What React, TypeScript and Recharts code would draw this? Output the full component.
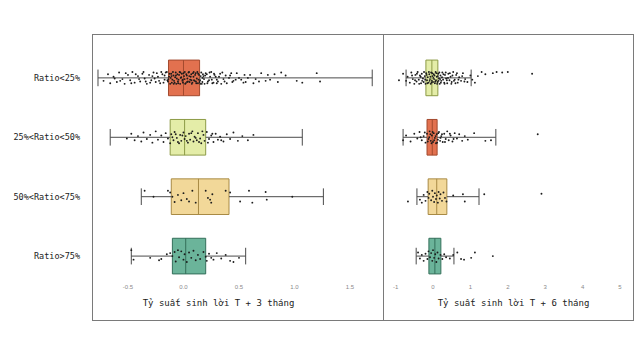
import { ComposedChart, Scatter, XAxis, YAxis, ReferenceArea, ReferenceLine } from 'recharts'

// row labels (top to bottom)
const groups = ['Ratio<25%', '25%<Ratio<50%', '50%<Ratio<75%', 'Ratio>75%']

// box stats, T + 3 months
const t3Low = [-0.77, -0.66, -0.38, -0.47]
const t3Q1 = [-0.135, -0.12, -0.11, -0.1]
const t3Median = [0.0, 0.01, 0.135, 0.02]
const t3Q3 = [0.145, 0.2, 0.41, 0.2]
const t3High = [1.7, 1.07, 1.26, 0.56]

// box stats, T + 6 months
const t6Low = [-0.72, -0.8, -0.43, -0.45]
const t6Q1 = [-0.19, -0.16, -0.13, -0.11]
const t6Median = [-0.03, -0.02, 0.1, 0.05]
const t6Q3 = [0.13, 0.11, 0.37, 0.21]
const t6High = [1.02, 1.68, 1.23, 0.56]

const t3Ticks = [-0.5, 0, 0.5, 1, 1.5]
const t6Ticks = [-1, 0, 1, 2, 3, 4, 5]

// jittered points: [return, vertical jitter within row]
const t3Row1 = [
  [-0.72, 0.05], [-0.68, -0.06], [-0.66, 0.09], [-0.63, -0.02], [-0.6, 0.07], [-0.58, -0.09], [-0.55, 0.02], [-0.53, 0.1],
  [-0.5, -0.05], [-0.48, 0.04], [-0.46, -0.1], [-0.44, 0.08], [-0.41, -0.03], [-0.39, 0.06], [-0.37, -0.07], [-0.35, 0.01],
  [-0.33, 0.1], [-0.31, -0.05], [-0.29, 0.04], [-0.27, -0.09], [-0.25, 0.07], [-0.23, -0.02], [-0.21, 0.09], [-0.19, -0.06],
  [-0.17, 0.03], [-0.16, -0.09], [-0.15, -0.1], [-0.145, 0.04], [-0.14, 0.06], [-0.13, -0.02], [-0.125, -0.07], [-0.12, 0.1],
  [-0.115, 0.0], [-0.11, -0.07], [-0.105, 0.08], [-0.1, 0.03], [-0.095, -0.1], [-0.09, -0.04], [-0.085, 0.05], [-0.08, 0.08],
  [-0.075, -0.01], [-0.07, -0.09], [-0.065, 0.1], [-0.06, 0.01], [-0.055, -0.06], [-0.05, 0.06], [-0.045, 0.03], [-0.04, -0.05],
  [-0.035, -0.1], [-0.03, 0.1], [-0.025, 0.0], [-0.02, -0.01], [-0.015, -0.07], [-0.01, 0.05], [-0.005, 0.08], [0, -0.08],
  [0.005, -0.03], [0.01, 0.02], [0.015, 0.1], [0.02, 0.09], [0.025, -0.06], [0.03, -0.04], [0.035, 0.01], [0.04, 0.06],
  [0.045, -0.09], [0.05, -0.1], [0.055, 0.07], [0.06, 0.03], [0.065, -0.02], [0.07, -0.06], [0.075, 0.1], [0.08, 0.08],
  [0.085, -0.08], [0.09, -0.02], [0.095, 0.04], [0.1, 0.05], [0.105, -0.05], [0.11, -0.08], [0.115, 0.09], [0.12, 0.01],
  [0.125, -0.1], [0.13, 0.09], [0.135, 0.03], [0.14, -0.05], [0.145, 0.07], [0.15, 0.04], [0.155, -0.03], [0.16, -0.09],
  [0.165, 0.1], [0.17, 0.07], [0.175, -0.06], [0.18, -0.03], [0.185, 0.02], [0.19, 0.1], [0.2, -0.08], [0.21, -0.06],
  [0.22, 0.06], [0.23, 0.04], [0.24, -0.02], [0.25, -0.1], [0.26, 0.09], [0.27, 0.08], [0.28, -0.05], [0.29, -0.02],
  [0.3, 0.03], [0.31, 0.06], [0.33, -0.07], [0.34, 0.1], [0.36, 0.02], [0.38, -0.04], [0.39, 0.09], [0.42, -0.04],
  [0.44, 0.07], [0.45, 0.05], [0.48, -0.08], [0.5, 0.0], [0.52, 0.03], [0.55, -0.05], [0.56, 0.07], [0.6, -0.05],
  [0.63, 0.09], [0.65, 0.02], [0.7, -0.08], [0.74, 0.05], [0.78, 0.03], [0.82, -0.06], [0.85, 0.07], [0.88, -0.09],
  [0.92, -0.04], [1.02, 0.05], [1.07, 0.08], [1.2, -0.08], [1.23, 0.06],
  [-0.62, 0.01], [-0.57, 0.05], [-0.52, -0.08], [-0.47, 0.09], [-0.43, -0.06], [-0.4, 0.02], [-0.36, -0.1], [-0.34, 0.06],
  [-0.3, 0.08], [-0.28, -0.03], [-0.26, 0.01], [-0.24, -0.08], [-0.22, 0.05], [-0.2, -0.1], [-0.18, 0.08], [-0.17, -0.04],
  [-0.135, 0.02], [-0.108, -0.03], [-0.088, 0.1], [-0.068, -0.04], [-0.048, 0.09], [-0.028, -0.09], [-0.008, 0.03], [0.012, -0.1],
  [0.032, 0.07], [0.052, -0.03], [0.072, 0.04], [0.092, -0.1], [0.112, 0.06], [0.132, -0.07], [0.152, 0.1], [0.172, 0.0],
  [0.195, -0.04], [0.215, 0.09], [0.235, -0.09], [0.255, 0.03], [0.275, -0.07], [0.3, 0.09], [0.32, -0.02], [0.35, -0.09],
  [0.37, 0.06], [0.41, 0.0], [0.43, -0.08], [0.47, 0.03], [0.54, 0.08], [0.58, 0.0], [0.68, 0.06], [0.76, -0.05],
]
const t3Row2 = [
  [-0.51, 0.02], [-0.47, -0.06], [-0.44, 0.05], [-0.41, -0.02], [-0.38, 0.07], [-0.36, -0.08], [-0.33, 0.03], [-0.3, -0.04],
  [-0.28, 0.09], [-0.25, -0.1], [-0.23, 0.04], [-0.2, -0.03], [-0.18, 0.08], [-0.16, -0.07], [-0.14, 0.02], [-0.12, 0.1],
  [-0.11, -0.05], [-0.09, 0.05], [-0.08, -0.09], [-0.06, 0.01], [-0.05, 0.08], [-0.03, -0.04], [-0.02, 0.06], [0, -0.08],
  [0.01, 0.03], [0.02, -0.02], [0.04, 0.09], [0.05, -0.06], [0.06, 0.04], [0.08, -0.1], [0.09, 0.07], [0.1, -0.01],
  [0.12, 0.05], [0.13, -0.07], [0.15, 0.02], [0.16, 0.1], [0.18, -0.04], [0.19, 0.06], [0.21, -0.09], [0.23, 0.03],
  [0.25, -0.03], [0.27, 0.08], [0.29, -0.06], [0.31, 0.04], [0.33, -0.01], [0.36, 0.07], [0.39, -0.05], [0.42, 0.03],
  [0.45, -0.08], [0.49, 0.06], [0.53, -0.02], [0.58, 0.05], [0.63, -0.04],
  [-0.1, 0.0], [-0.07, -0.05], [-0.04, 0.1], [-0.01, -0.03], [0.03, 0.06], [0.07, -0.07], [0.11, 0.01], [0.14, 0.08],
  [0.17, -0.1], [0.22, 0.09], [0.26, -0.06], [0.34, 0.05],
]
const t3Row3 = [
  [-0.35, -0.1], [-0.27, 0], [-0.14, -0.1], [-0.12, -0.07], [-0.1, 0.0], [-0.08, 0.09], [-0.05, -0.03], [-0.02, 0.06],
  [0.0, -0.06], [0.03, 0.04], [0.05, 0.08], [0.08, -0.1], [0.11, 0.1], [0.2, -0.1], [0.22, 0.02], [0.24, 0.05],
  [0.26, -0.04], [0.25, 0.1], [0.38, -0.1], [0.42, -0.07], [0.51, 0.08], [0.59, -0.1], [0.62, 0.1], [0.74, -0.08],
  [0.75, 0.05], [0.98, 0.0],
]
const t3Row4 = [
  [-0.47, -0.1], [-0.45, 0.06], [-0.3, 0.03], [-0.22, 0.07], [-0.2, 0.05], [-0.15, -0.03], [-0.12, -0.05], [-0.1, 0.0],
  [-0.08, -0.07], [-0.07, 0.09], [-0.05, -0.1], [-0.04, 0.02], [-0.02, -0.08], [0.0, 0.06], [0.01, -0.03], [0.03, 0.1],
  [0.05, -0.06], [0.07, 0.03], [0.09, -0.09], [0.11, 0.07], [0.13, -0.02], [0.15, 0.05], [0.18, -0.07], [0.2, 0.01],
  [0.21, 0.08], [0.23, -0.04], [0.25, 0.03], [0.27, 0.06], [0.3, -0.05], [0.34, 0.04], [0.38, -0.02], [0.42, 0.08],
  [0.45, 0.1], [0.5, 0.03],
]

const t6Row1 = [
  [-0.91, 0.04], [-0.8, -0.07], [-0.72, 0.05], [-0.68, -0.02], [-0.62, 0.08], [-0.58, -0.09], [-0.54, 0.02], [-0.5, 0.1],
  [-0.47, -0.05], [-0.44, 0.06], [-0.41, -0.1], [-0.38, 0.03], [-0.35, -0.04], [-0.32, 0.09], [-0.3, -0.07], [-0.27, 0.01],
  [-0.25, 0.07], [-0.22, -0.03], [-0.2, 0.1], [-0.18, -0.08], [-0.16, 0.04], [-0.14, -0.01], [-0.12, 0.08], [-0.1, -0.06],
  [-0.08, 0.02], [-0.06, 0.1], [-0.05, -0.09], [-0.03, 0.05], [-0.01, -0.03], [0.0, 0.07], [0.02, -0.06], [0.03, 0.02],
  [0.05, 0.09], [0.07, -0.1], [0.08, 0.04], [0.1, -0.02], [0.12, 0.07], [0.14, -0.07], [0.16, 0.01], [0.18, 0.1],
  [0.2, -0.04], [0.22, 0.05], [0.25, -0.09], [0.27, 0.03], [0.3, 0.08], [0.32, -0.05], [0.35, 0.01], [0.38, 0.09],
  [0.41, -0.07], [0.44, 0.04], [0.47, -0.02], [0.5, 0.07], [0.54, -0.1], [0.58, 0.03], [0.62, -0.05], [0.66, 0.08],
  [0.7, -0.01], [0.75, 0.05], [0.8, -0.08], [0.86, 0.02], [0.92, 0.07], [1.0, -0.04], [1.05, 0.03], [1.12, 0.08],
  [1.2, -0.03], [1.3, -0.1], [1.4, -0.06], [1.6, -0.08], [1.7, -0.1], [1.85, -0.09], [2.0, -0.1], [2.65, -0.07],
  [-0.56, -0.04], [-0.48, 0.04], [-0.43, -0.07], [-0.37, 0.1], [-0.33, -0.02], [-0.29, 0.05], [-0.24, -0.1], [-0.21, 0.03],
  [-0.17, -0.05], [-0.15, 0.09], [-0.11, -0.1], [-0.09, 0.05], [-0.07, -0.02], [-0.04, 0.08], [-0.02, -0.08], [0.01, 0.0],
  [0.04, -0.04], [0.06, 0.06], [0.09, -0.08], [0.11, 0.1], [0.13, -0.03], [0.15, 0.05], [0.17, -0.09], [0.19, 0.02],
  [0.21, 0.08], [0.24, -0.01], [0.28, -0.06], [0.31, 0.1], [0.34, -0.09], [0.37, 0.04], [0.4, 0.0], [0.45, -0.08],
  [0.49, 0.1], [0.52, -0.04], [0.56, 0.05], [0.6, 0.09], [0.64, -0.08], [0.68, 0.03], [0.78, -0.03], [0.84, 0.06],
]
const t6Row2 = [
  [-0.8, 0.05], [-0.72, -0.03], [-0.6, 0.07], [-0.5, -0.06], [-0.42, 0.02], [-0.36, -0.09], [-0.3, 0.05], [-0.25, -0.02],
  [-0.2, 0.09], [-0.16, -0.06], [-0.12, 0.03], [-0.09, -0.1], [-0.06, 0.06], [-0.03, -0.03], [0.0, 0.08], [0.02, -0.07],
  [0.05, 0.01], [0.08, 0.1], [0.1, -0.05], [0.13, 0.04], [0.16, -0.09], [0.19, 0.06], [0.22, -0.02], [0.26, 0.08],
  [0.3, -0.06], [0.34, 0.03], [0.38, -0.1], [0.42, 0.05], [0.47, -0.03], [0.52, 0.07], [0.58, -0.07], [0.64, 0.02],
  [0.7, -0.05], [0.78, 0.06], [0.85, -0.02], [0.93, 0.04], [1.1, -0.07], [1.4, 0.06], [1.55, 0.05], [2.8, -0.05],
  [-0.33, 0.0], [-0.22, -0.08], [-0.14, 0.07], [-0.1, 0.0], [-0.07, -0.05], [-0.04, 0.1], [-0.01, -0.09], [0.03, 0.05],
  [0.07, -0.02], [0.11, 0.09], [0.14, -0.07], [0.2, 0.01], [0.24, -0.05], [0.32, 0.08], [0.45, -0.06], [0.55, 0.03],
]
const t6Row3 = [
  [-0.67, 0.08], [-0.35, 0.05], [-0.3, 0.1], [-0.25, -0.03], [-0.2, 0.07], [-0.15, -0.08], [-0.12, 0.02], [-0.1, -0.05],
  [-0.05, 0.06], [-0.02, -0.1], [0.0, 0.0], [0.03, 0.09], [0.05, -0.06], [0.08, 0.04], [0.1, -0.02], [0.13, 0.1],
  [0.15, -0.08], [0.18, 0.03], [0.2, -0.04], [0.24, 0.07], [0.28, -0.07], [0.32, 0.02], [0.36, 0.08], [0.54, -0.02],
  [0.8, -0.04], [0.85, 0.08], [1.37, -0.04], [2.9, -0.05],
]
const t6Row4 = [
  [-0.4, -0.06], [-0.35, 0.04], [-0.3, -0.02], [-0.25, 0.08], [-0.2, -0.04], [-0.15, 0.05], [-0.12, -0.08], [-0.08, 0.02],
  [-0.05, -0.05], [-0.02, 0.08], [0.0, -0.1], [0.03, 0.03], [0.06, -0.03], [0.09, 0.1], [0.12, -0.06], [0.15, 0.04],
  [0.2, -0.02], [0.25, 0.05], [0.3, -0.03], [0.35, 0.02], [0.45, 0.04], [0.54, -0.02], [0.65, -0.06], [0.75, 0.05],
  [0.83, 0.06], [1.02, 0.03], [1.12, -0.06], [1.6, 0.0],
]

const PALETTE = {
  orange: { fill: '#E2714F', stroke: '#A34A2E' },
  lime: { fill: '#E4EDA8', stroke: '#8C9A45' },
  sand: { fill: '#F2D899', stroke: '#A88A44' },
  teal: { fill: '#6BB49A', stroke: '#346F5A' },
}
const t3Colors = [PALETTE.orange, PALETTE.lime, PALETTE.sand, PALETTE.teal]
const t6Colors = [PALETTE.lime, PALETTE.orange, PALETTE.sand, PALETTE.teal]

const MONO = '"DejaVu Sans Mono", monospace'
const HALF_BOX = 0.3
const HALF_CAP = 0.14

interface PanelProps {
  width: number
  domain: [number, number]
  ticks: number[]
  title: string
  titleDx: number
  showLabels: boolean
  low: number[]
  q1: number[]
  median: number[]
  q3: number[]
  high: number[]
  colors: { fill: string; stroke: string }[]
  rows: number[][][]
}

function BoxPanel(p: PanelProps) {
  const points = p.rows.flatMap((row, i) => row.map(([x, j]) => ({ x, y: i + 1 + j })))
  const whisker = '#4a4a4a'

  return (
    <ComposedChart width={p.width} height={360} margin={{ top: 35, right: 0, bottom: 40, left: 0 }}>
      <XAxis
        type="number"
        dataKey="x"
        domain={p.domain}
        ticks={p.ticks}
        allowDataOverflow
        axisLine={false}
        tickLine={false}
        tickSize={0}
        tickMargin={2}
        height={37}
        tick={{ fontSize: 6, fill: '#8a8a8a', fontFamily: 'Liberation Sans' }}
        tickFormatter={(v: number) => (p.showLabels ? v.toFixed(1) : String(v))}
        label={{ value: p.title, position: 'insideBottom', offset: 14, dx: p.titleDx, style: { fontSize: 9, fontFamily: MONO, fill: '#222' } }}
      />
      <YAxis
        type="number"
        dataKey="y"
        domain={[0.278, 4.453]}
        reversed
        allowDataOverflow
        ticks={[1, 2, 3, 4]}
        hide={!p.showLabels}
        width={p.showLabels ? 92 : 0}
        axisLine={false}
        tickLine={false}
        tickSize={0}
        tickMargin={12}
        tick={{ fontSize: 8.5, fill: '#222', fontFamily: MONO }}
        tickFormatter={(v: number) => groups[v - 1] ?? ''}
      />
      {groups.map((g, i) => {
        const r = i + 1
        return [
          <ReferenceLine key={`wl-${g}`} segment={[{ x: p.low[i], y: r }, { x: p.q1[i], y: r }]} stroke={whisker} strokeWidth={1} />,
          <ReferenceLine key={`wh-${g}`} segment={[{ x: p.q3[i], y: r }, { x: p.high[i], y: r }]} stroke={whisker} strokeWidth={1} />,
          <ReferenceLine key={`cl-${g}`} segment={[{ x: p.low[i], y: r - HALF_CAP }, { x: p.low[i], y: r + HALF_CAP }]} stroke={whisker} strokeWidth={1} />,
          <ReferenceLine key={`ch-${g}`} segment={[{ x: p.high[i], y: r - HALF_CAP }, { x: p.high[i], y: r + HALF_CAP }]} stroke={whisker} strokeWidth={1} />,
          <ReferenceArea
            key={`box-${g}`}
            x1={p.q1[i]}
            x2={p.q3[i]}
            y1={r - HALF_BOX}
            y2={r + HALF_BOX}
            fill={p.colors[i].fill}
            fillOpacity={1}
            stroke={p.colors[i].stroke}
            strokeWidth={1}
          />,
          <ReferenceLine
            key={`med-${g}`}
            segment={[{ x: p.median[i], y: r - HALF_BOX }, { x: p.median[i], y: r + HALF_BOX }]}
            stroke={p.colors[i].stroke}
            strokeWidth={1}
          />,
        ]
      })}
      <Scatter
        data={points}
        isAnimationActive={false}
        shape={(s: any) => <circle cx={s.cx} cy={s.cy} r={0.95} fill="#1c1c1c" />}
      />
    </ComposedChart>
  )
}

export default function App() {
  return (
    <div style={{ position: 'absolute', left: 0, top: 0, width: 640, height: 360, background: '#fff', overflow: 'hidden' }}>
      <div style={{ position: 'absolute', left: 0, top: 0 }}>
        <BoxPanel
          width={383}
          domain={[-0.824, 1.797]}
          ticks={t3Ticks}
          title="Tỷ suất sinh lời T + 3 tháng"
          titleDx={-19}
          showLabels
          low={t3Low}
          q1={t3Q1}
          median={t3Median}
          q3={t3Q3}
          high={t3High}
          colors={t3Colors}
          rows={[t3Row1, t3Row2, t3Row3, t3Row4]}
        />
      </div>
      <div style={{ position: 'absolute', left: 383, top: 0 }}>
        <BoxPanel
          width={251}
          domain={[-1.337, 5.374]}
          ticks={t6Ticks}
          title="Tỷ suất sinh lời T + 6 tháng"
          titleDx={5}
          showLabels={false}
          low={t6Low}
          q1={t6Q1}
          median={t6Median}
          q3={t6Q3}
          high={t6High}
          colors={t6Colors}
          rows={[t6Row1, t6Row2, t6Row3, t6Row4]}
        />
      </div>
      {/* panel frames */}
      <div style={{ position: 'absolute', left: 92, top: 34, width: 542, height: 287, border: '1px solid #7a7a7a', boxSizing: 'border-box', pointerEvents: 'none' }} />
      <div style={{ position: 'absolute', left: 383, top: 34, width: 1, height: 287, background: '#7a7a7a', pointerEvents: 'none' }} />
    </div>
  )
}
